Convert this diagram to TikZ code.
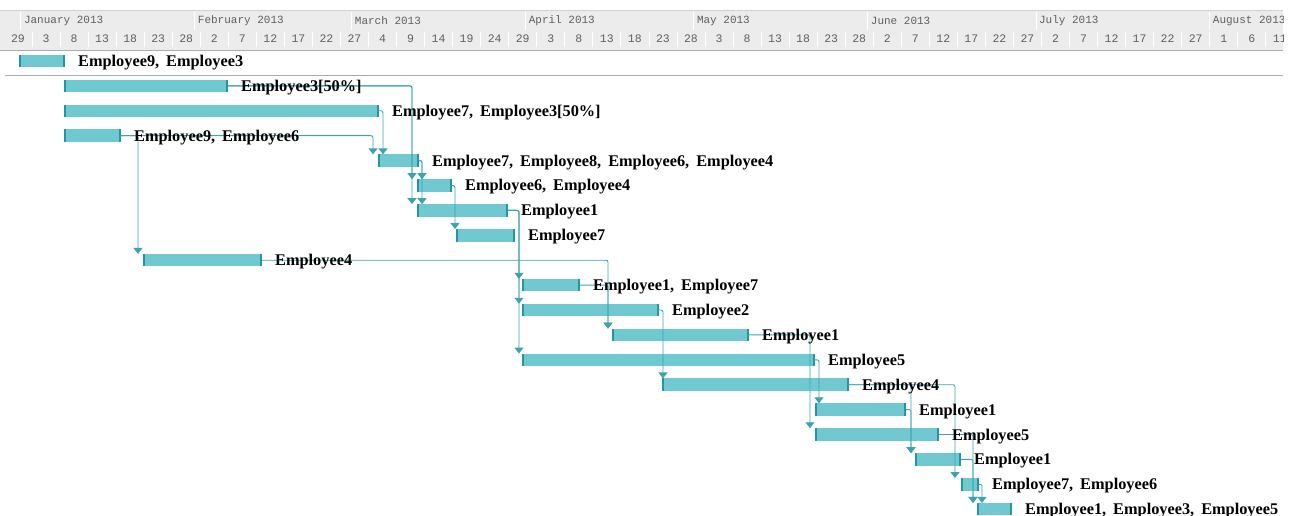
\documentclass[tikz,border=0pt]{standalone}
\usepackage{fontspec}
\setmainfont{Liberation Serif}
\newfontfamily\headfont{Liberation Mono}
\usetikzlibrary{arrows.meta}

\definecolor{barfill}{RGB}{112,200,208}
\definecolor{barend}{RGB}{35,150,162}
\definecolor{linkcol}{RGB}{60,164,174}
\definecolor{headbg}{RGB}{236,236,236}
\definecolor{headtxt}{RGB}{95,95,95}

\tikzset{
  task/.style={fill=barfill, anchor=west, inner sep=0pt, outer sep=0pt, minimum height=12.5pt,
    path picture={
      \fill[barend] (path picture bounding box.north west) rectangle ([xshift=2.2pt]path picture bounding box.south west);
      \fill[barend] ([xshift=-2.2pt]path picture bounding box.north east) rectangle (path picture bounding box.south east);}},
  tasklabel/.style={anchor=base west, inner sep=0pt, font=\fontsize{16.3}{17}\selectfont\bfseries,
    execute at begin node={\spaceskip=7pt\relax}},
  link/.style={->, draw=linkcol, line width=0.9pt, rounded corners=2pt},
  monthlabel/.style={anchor=west, inner sep=0pt, text=headtxt, font=\headfont\fontsize{11}{11}\selectfont},
  daylabel/.style={inner sep=0pt, text=headtxt, font=\headfont\fontsize{11.5}{11.5}\selectfont}
}

\begin{document}
\begin{tikzpicture}[x=1pt, y=-1pt, >={Triangle[width=9pt,length=6pt]}]

\useasboundingbox (0,0) rectangle (1294,516);

% Definição do cabeçalho

\begin{scope}
\clip (0,0) rectangle (1283,52);
\fill[headbg] (0,10) rectangle (1283,50);
\draw[gray!35] (0,10) -- (1283,10);
\draw[gray!65] (0,50) -- (1283,50);

\foreach \xm/\txt [count=\i] in {20.8/January 2013, 194.7/February 2013, 351.7/March 2013,
    525.6/April 2013, 693.8/May 2013, 867.7/June 2013, 1035.9/July 2013, 1209.7/August 2013}
{
  \draw[white, line width=0.8pt] (\xm,12) -- (\xm,30);
  \node[monthlabel] (month-\i) at (\xm+3,20.5) {\txt};
}

\foreach \dd [count=\k from 0] in {29,3,8,13,18,23,28,2,7,12,17,22,27,4,9,14,19,24,29,3,8,13,18,23,28,
    3,8,13,18,23,28,2,7,12,17,22,27,2,7,12,17,22,27,1,6,11}
{
  \node[daylabel] (day-\k) at (18+28.04*\k,38.5) {\dd};
  \draw[white, line width=0.8pt] (32.04+28.04*\k,32) -- ++(0,15);
}
\end{scope}

\draw[gray!65] (5,75) -- (1283,75);

% Definição das barras.

\foreach \n/\xa/\xb [evaluate=\xb as \w using \xb-\xa] in {
    1/19/65, 2/64/228, 3/64/379, 4/64/121, 5/378/419, 6/417/452, 7/417/508,
    8/456/515, 9/143/262, 10/522/580, 11/522/659, 12/612/749, 13/522/815,
    14/662/849, 15/815/906, 16/815/939, 17/915/961, 18/961/979, 19/977/1012}
  \node[task, minimum width=\w pt] (task-\n) at (\xa,{61+24.9*(\n-1)}) {};

% Definição das setas.

\foreach \a/\b/\d in {4/9/-5, 4/5/-5, 3/5/5, 2/6/-5, 2/7/-5, 5/6/5, 5/7/5, 6/8/-1,
    7/10/-3, 7/11/-3, 7/13/-3, 9/12/-4, 10/12/-4, 11/14/1, 12/16/-5, 13/15/4,
    14/17/-4, 15/17/-4, 14/18/-6, 16/19/-4, 17/19/-4, 18/19/5}
  \draw[link] (task-\a.east) -| ([xshift=\d]task-\b.north west);

% Definição dos labels.

\foreach \txt [count=\n] in {{Employee9, Employee3}, {Employee3[50\%]}, {Employee7, Employee3[50\%]},
    {Employee9, Employee6}, {Employee7, Employee8, Employee6, Employee4}, {Employee6, Employee4},
    Employee1, Employee7, Employee4, {Employee1, Employee7}, Employee2, Employee1, Employee5,
    Employee4, Employee1, Employee5, Employee1, {Employee7, Employee6}, {Employee1, Employee3, Employee5}}
  \node[tasklabel] (label-\n) at ([shift={(13,5.5)}]task-\n.east) {\txt};

\end{tikzpicture}
\end{document}
